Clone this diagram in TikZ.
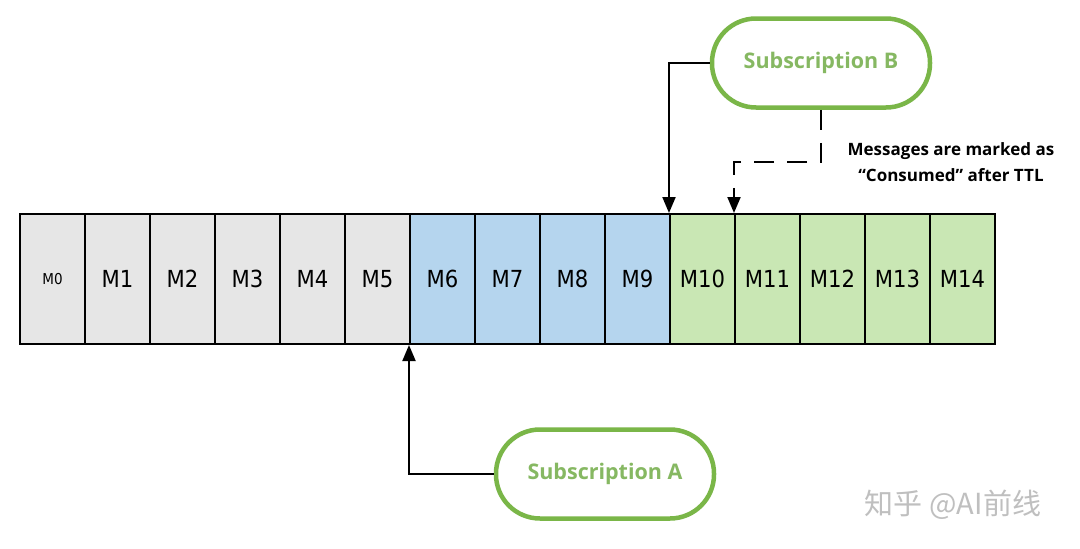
\documentclass[tikz,border=0pt]{standalone}
\usepackage{fontspec}
\setmainfont{DejaVu Sans Condensed}
\newfontfamily\labelfont{Open Sans}
\newfontfamily\cjkfont{Noto Sans CJK SC}
\usetikzlibrary{arrows.meta,positioning}
\definecolor{cellgray}{HTML}{E6E6E6}
\definecolor{cellblue}{HTML}{B5D5EE}
\definecolor{cellgreen}{HTML}{C9E7B4}
\definecolor{subedge}{HTML}{7AB648}
\definecolor{subtext}{HTML}{86B862}
\tikzset{
  cell/.style={draw=black, line width=2pt, minimum width=65pt, minimum height=130pt,
    inner sep=0pt, font=\fontsize{23.5}{26}\selectfont},
  graycell/.style={cell, fill=cellgray},
  bluecell/.style={cell, fill=cellblue},
  greencell/.style={cell, fill=cellgreen},
  subbox/.style={draw=subedge, line width=4.5pt, fill=white, rounded corners=44pt,
    minimum width=218pt, minimum height=89pt, text=subtext,
    font=\labelfont\bfseries\fontsize{21.5}{24}\selectfont},
  conn/.style={line width=2pt, -{Triangle[length=16pt,width=13pt]}},
  dconn/.style={conn, dash pattern=on 20pt off 13pt},
}
\begin{document}
\begin{tikzpicture}[x=1pt,y=-1pt]
\useasboundingbox (0,0) rectangle (1080,549);
\fill[white] (0,0) rectangle (1080,549);
% cells
\node[graycell, font=\fontsize{15}{18}\selectfont] (m0) at (52.5,279) {M0};
\foreach \i in {1,...,5} {
  \node[graycell] (m\i) at ({52.5+65*\i},279) {M\i};
}
\foreach \i in {6,...,9} {
  \node[bluecell] (m\i) at ({52.5+65*\i},279) {M\i};
}
\foreach \i in {10,...,14} {
  \node[greencell] (m\i) at ({52.5+65*\i},279) {M\i};
}
% subscriptions
\node[subbox] (subB) at (821,63) {Subscription B};
\node[subbox] (subA) at (605,474) {Subscription A};
% text
\node[font=\labelfont\bfseries\fontsize{17}{26}\selectfont, align=center] (msg) at (951,162)
  {Messages are marked as\\“Consumed” after TTL};
% connectors
\draw[conn] (subA.west) -| (m6.south west);
\draw[conn] (subB.west) -| (m10.north west);
\draw[dconn] (subB.south) -- ++(0,52) coordinate (bend) -| (m11.north west);
% watermark
\node[text=black!25, font=\cjkfont\fontsize{29}{32}\selectfont] (wm) at (953,505) {知乎 @AI前线};
\end{tikzpicture}
\end{document}
